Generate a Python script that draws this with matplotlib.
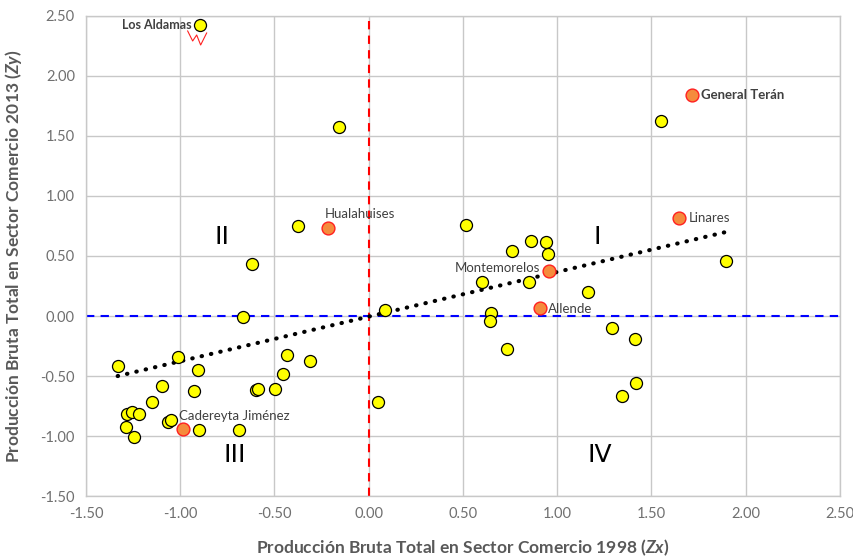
#!/usr/bin/env python3

import matplotlib
matplotlib.use("Agg")
import numpy as np
import matplotlib.pyplot as plt

# standardised values (z-scores)
zx_others = [-0.159, 1.549, -0.377, 0.515, -0.621, 0.759, 0.859, 0.939, 0.950,
             0.599, 0.849, 1.162, 1.894, 0.085, -0.668, 0.647, 0.642, 1.289,
             1.411, 0.732, 1.416, 1.342, 0.048, -1.332, -1.013, -0.907, -1.098,
             -0.928, -1.151, -1.284, -1.257, -1.220, -1.289, -1.247, -1.066,
             -1.050, -0.902, -0.690, -0.600, -0.589, -0.499, -0.456, -0.435,
             -0.313]
zy_others = [1.575, 1.625, 0.750, 0.758, 0.433, 0.542, 0.625, 0.617, 0.517,
             0.283, 0.283, 0.200, 0.458, 0.050, -0.008, 0.025, -0.042, -0.100,
             -0.192, -0.275, -0.558, -0.667, -0.717, -0.417, -0.342, -0.450,
             -0.583, -0.625, -0.717, -0.817, -0.800, -0.817, -0.925, -1.008,
             -0.883, -0.867, -0.950, -0.950, -0.617, -0.608, -0.608, -0.483,
             -0.325, -0.375]

# Los Aldamas (yellow, labelled)
aldamas_name = "Los Aldamas"
aldamas_zx = -0.897
aldamas_zy = 2.425

# highlighted municipalities (orange)
hl_names = ["General Terán", "Linares", "Hualahuises", "Montemorelos",
            "Allende", "Cadereyta Jiménez"]
hl_zx = [1.713, 1.645, -0.218, 0.955, 0.907, -0.987]
hl_zy = [1.842, 0.817, 0.733, 0.375, 0.067, -0.940]

# linear trend line as shown on the chart
trend_slope = 0.372
trend_intercept = -0.005

quadrants = ["I", "II", "III", "IV"]
quad_x = [1.21, -0.78, -0.71, 1.225]
quad_y = [0.66, 0.66, -1.16, -1.16]

ticks = [-1.5, -1.0, -0.5, 0.0, 0.5, 1.0, 1.5, 2.0, 2.5]


def plot_quadrants():
    plt.rcParams["font.family"] = ["Lato", "DejaVu Sans"]
    plt.rcParams["mathtext.fontset"] = "custom"
    plt.rcParams["mathtext.rm"] = "Lato:bold"
    plt.rcParams["mathtext.it"] = "Lato:bold:italic"

    fig = plt.figure(figsize=(8.54, 5.57), dpi=100)
    ax = fig.add_axes([0.1007, 0.1095, 0.8829, 0.8618])

    grid_col = "#c8c8c8"
    ax.set_xlim(-1.5, 2.5)
    ax.set_ylim(-1.5, 2.5)
    ax.set_xticks(ticks)
    ax.set_yticks(ticks)
    ax.set_xticklabels([f"{t:.2f}" for t in ticks])
    ax.set_yticklabels([f"{t:.2f}" for t in ticks])
    ax.tick_params(length=0, labelsize=10.5, colors="#707070", pad=8)
    ax.grid(True, color=grid_col, linewidth=1)
    ax.set_axisbelow(True)
    for s in ax.spines.values():
        s.set_color(grid_col)
        s.set_linewidth(1)

    # zero reference lines
    ax.axvline(0, color="#ff0000", linestyle=(0, (4, 3)), linewidth=1.5, zorder=2)
    ax.axhline(0, color="#0000ff", linestyle=(0, (4, 3)), linewidth=1.5, zorder=2)

    # trend over the data range
    all_x = np.array(zx_others + [aldamas_zx] + hl_zx)
    tx = np.array([all_x.min(), all_x.max()])
    ax.plot(tx, trend_slope * tx + trend_intercept, color="black",
            linestyle=(0, (0.1, 2.2)), linewidth=3, dash_capstyle="round",
            zorder=3)

    ax.scatter(zx_others + [aldamas_zx], zy_others + [aldamas_zy], s=75,
               color="#ffff00", edgecolor="black", linewidth=0.9, zorder=4)
    ax.scatter(hl_zx, hl_zy, s=85, color="#f58b3c", edgecolor="#ff2020",
               linewidth=1.0, zorder=4)

    # labels
    ax.annotate(aldamas_name, (aldamas_zx, aldamas_zy), xytext=(-6, 0),
                textcoords="offset points", ha="right", va="center",
                fontsize=9, fontweight="bold", color="#404040")
    offsets = {"General Terán": ((7, 0), "left", "center", "bold"),
               "Linares": ((7, 0), "left", "center", "normal"),
               "Hualahuises": ((-2, 6), "left", "bottom", "normal"),
               "Montemorelos": ((-6, 2), "right", "center", "normal"),
               "Allende": ((6, -1), "left", "center", "normal"),
               "Cadereyta Jiménez": ((-3, 5), "left", "bottom", "normal")}
    for name, x, y in zip(hl_names, hl_zx, hl_zy):
        off, ha, va, wt = offsets[name]
        ax.annotate(name, (x, y), xytext=off, textcoords="offset points",
                    ha=ha, va=va, fontsize=9.5, fontweight=wt,
                    color="#404040")

    # small red scribble under Los Aldamas
    sx = aldamas_zx + np.array([-12, -7, -3, 1, 7]) / 188.5
    sy = aldamas_zy - np.array([6, 16, 10, 20, 8]) / 120.0
    ax.plot(sx, sy, color="#ff2020", linewidth=0.8, zorder=3)

    for q, x, y in zip(quadrants, quad_x, quad_y):
        ax.text(x, y, q, fontsize=18, ha="center", va="center",
                color="black", family="DejaVu Sans")

    ax.set_xlabel(r"Producción Bruta Total en Sector Comercio 1998 ($Zx$)",
                  fontsize=12.5, fontweight="bold", color="#595959", labelpad=12)
    ax.set_ylabel(r"Producción Bruta Total en Sector Comercio 2013 ($Zy$)",
                  fontsize=12.5, fontweight="bold", color="#595959", labelpad=12)

    fig.savefig("out.png", dpi=100)


def main():
    plot_quadrants()


if __name__ == "__main__":
    main()
